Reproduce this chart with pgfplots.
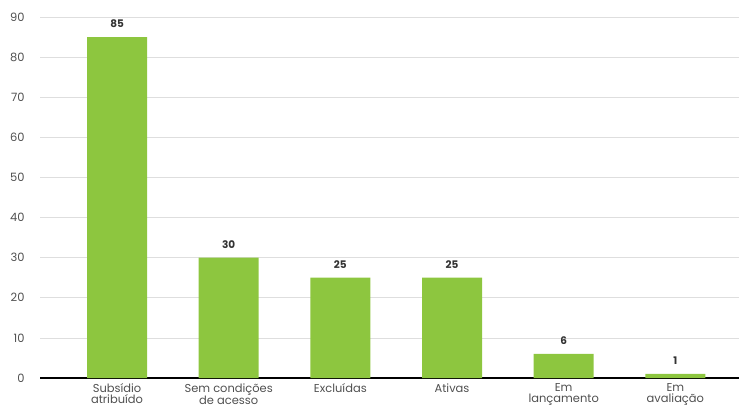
\documentclass[border=0pt]{standalone}
\usepackage{pgfplots}
\pgfplotsset{compat=1.18}
\usepackage{fontspec}
\setmainfont{Poppins}
\definecolor{bargreen}{RGB}{141,198,63}
\definecolor{gridgray}{RGB}{222,222,222}
\definecolor{labgray}{RGB}{80,80,80}
\begin{document}
\begin{tikzpicture}
\useasboundingbox (0,0) rectangle (739bp,411bp);
\begin{axis}[
    at={(40bp,33bp)}, anchor=south west,
    scale only axis,
    width=699bp, height=361bp,
    xmin=-0.69, xmax=5.57,
    ymin=0, ymax=90,
    ytick={0,10,...,90},
    xtick={0,...,5},
    xticklabels={{Subsídio\\atribuído},{Sem condições\\de acesso},Excluídas,Ativas,{Em\\lançamento},{Em\\avaliação}},
    axis x line*=bottom,
    axis y line*=left,
    y axis line style={draw=none},
    x axis line style={black, line width=1.2pt, -},
    ymajorgrids,
    grid style={gridgray, line width=0.6pt},
    major tick length=0pt,
    tick label style={text=labgray},
    xticklabel style={align=center, anchor=north, font=\fontsize{11.5}{11}\selectfont, yshift=-2bp},
    yticklabel style={font=\fontsize{11.5}{11}\selectfont, xshift=-12bp},
    /pgf/number format/assume math mode=true,
    clip=false,
    ybar, bar width=60bp,
    nodes near coords,
    nodes near coords style={font=\bfseries\fontsize{10.5}{10}\selectfont, text=black!80, yshift=6bp},
]
\addplot[fill=bargreen, draw=none] coordinates {(0,85) (1,30) (2,25) (3,25) (4,6) (5,1)};
\end{axis}
\end{tikzpicture}
\end{document}
